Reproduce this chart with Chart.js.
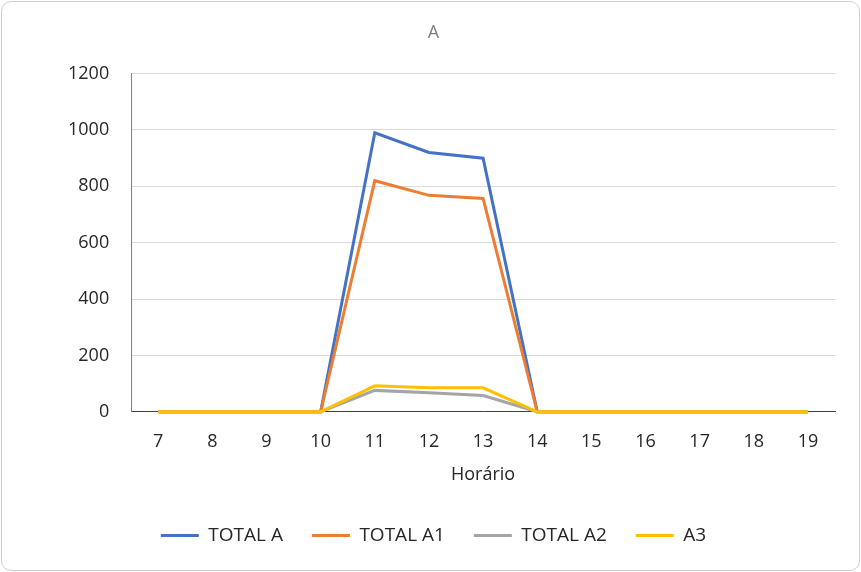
<!DOCTYPE html>
<html>
<head>
<meta charset="utf-8">
<script src="https://cdn.jsdelivr.net/npm/chart.js@4"></script>
<style>
  html, body { margin: 0; padding: 0; background: #fff; }
  #box {
    position: absolute; left: 1px; top: 1px; width: 857px; height: 568px;
    border: 1px solid #d0d0d0; border-radius: 10px; background: #fff;
  }
  canvas { position: absolute; left: 0; top: 0; }
</style>
</head>
<body>
<div id="box"><canvas id="chart" width="857" height="568"></canvas></div>
<script>
// horas no eixo x
const horas = ['7', '8', '9', '10', '11', '12', '13', '14', '15', '16', '17', '18', '19'];

const totalA  = [0, 0, 0, 0, 990, 920, 900, 0, 0, 0, 0, 0, 0];
const totalA1 = [0, 0, 0, 0, 820, 768, 757, 0, 0, 0, 0, 0, 0];
const totalA2 = [0, 0, 0, 0, 76, 68, 58, 0, 0, 0, 0, 0, 0];
const a3      = [0, 0, 0, 0, 92, 85, 85, 0, 0, 0, 0, 0, 0];

const nomes = ['TOTAL A', 'TOTAL A1', 'TOTAL A2', 'A3'];
const cores = ['#4472c4', '#ed7d31', '#a5a5a5', '#ffc000'];
const series = [totalA, totalA1, totalA2, a3];

const fonte = "'Open Sans', 'Liberation Sans', sans-serif";

function linha(i) {
  return {
    label: nomes[i],
    data: series[i],
    borderColor: cores[i],
    backgroundColor: cores[i],
    borderWidth: 3,
    pointRadius: 0,
    tension: 0,
    fill: false,
    clip: false,
    order: 3 - i // a ultima serie fica por cima, como no Excel
  };
}

const ctx = document.getElementById('chart');
new Chart(ctx, {
  type: 'line',
  data: {
    labels: horas,
    datasets: [linha(0), linha(1), linha(2), linha(3)]
  },
  options: {
    responsive: false,
    animation: false,
    layout: { padding: { left: 30, right: 24, top: 8, bottom: 15 } },
    plugins: {
      title: {
        display: true,
        text: 'A',
        color: '#7f7f7f',
        font: { family: fonte, size: 18, weight: 'normal' },
        padding: { top: 12, bottom: 30 }
      },
      legend: {
        position: 'bottom',
        labels: {
          color: '#262626',
          font: { family: fonte, size: 19 },
          boxWidth: 38,
          boxHeight: 3,
          padding: 29,
          sort: function (a, b) { return a.datasetIndex - b.datasetIndex; },
          generateLabels: function (chart) {
            const itens = Chart.defaults.plugins.legend.labels.generateLabels(chart);
            itens.forEach(function (it) { it.lineWidth = 0; });
            return itens;
          }
        }
      },
      tooltip: { enabled: false }
    },
    scales: {
      x: {
        offset: true,
        grid: { display: false },
        border: { display: true, color: '#404040', width: 1 },
        ticks: { color: '#262626', font: { family: fonte, size: 18 }, padding: 11 },
        title: {
          display: true,
          text: 'Horário',
          color: '#262626',
          font: { family: fonte, size: 18 },
          padding: { top: 1, bottom: 11 }
        }
      },
      y: {
        min: 0,
        max: 1200,
        afterFit: function (scale) { scale.width += 14; },
        ticks: {
          stepSize: 200,
          color: '#262626',
          font: { family: fonte, size: 18 },
          padding: 22,
          callback: function (v) { return String(v); }
        },
        grid: { color: '#d9d9d9', drawTicks: false },
        border: { display: true, color: '#808080', width: 1 }
      }
    }
  }
});
</script>
</body>
</html>
